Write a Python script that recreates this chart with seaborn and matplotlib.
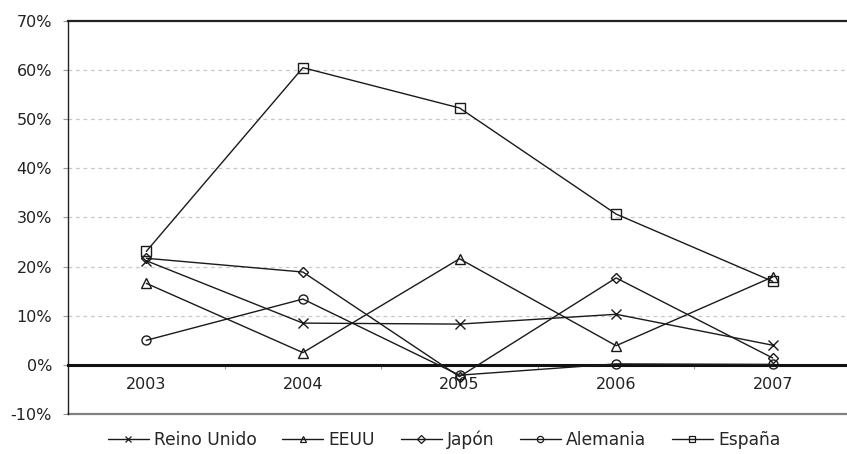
import numpy as np
import pandas as pd
import seaborn as sns
import matplotlib
matplotlib.use("Agg")
import matplotlib.pyplot as plt
from matplotlib.lines import Line2D
from matplotlib.ticker import FixedLocator, PercentFormatter

# Tasas de variación anual (%)
anios = ["2003", "2004", "2005", "2006", "2007"]
paises = ["Reino Unido", "EEUU", "Japón", "Alemania", "España"]
reino_unido = [21.2, 8.5, 8.3, 10.3, 4.0]
eeuu = [16.6, 2.5, 21.6, 3.9, 17.9]
japon = [21.7, 18.9, -2.4, 17.7, 1.4]
alemania = [5.0, 13.4, -2.1, 0.2, 0.1]
espana = [23.1, 60.5, 52.3, 30.7, 17.0]
marcadores = ["x", "^", "D", "o", "s"]

series = [reino_unido, eeuu, japon, alemania, espana]
df = pd.DataFrame({
    "pos": np.tile(np.arange(len(anios)), len(paises)),
    "valor": np.concatenate(series),
    "pais": np.repeat(paises, len(anios)),
})

sns.set_theme(style="white")
plt.rcParams["font.family"] = ["DejaVu Sans"]
plt.rcParams["font.size"] = 11.5
plt.rcParams["axes.unicode_minus"] = False

fig = plt.figure(figsize=(8.47, 4.54), dpi=100)
# axes box: left 68px, top 21px, bottom 414px; right side runs past the figure edge
W, H = 847, 454
ax = fig.add_axes([68 / W, (H - 414) / H, (851 - 68) / W, (414 - 21) / H])

msizes = {"x": 7, "^": 7.5, "D": 5.5, "o": 6.5, "s": 7}
for pais, m in zip(paises, marcadores):
    sns.lineplot(
        data=df[df["pais"] == pais], x="pos", y="valor",
        color="#1a1a1a", linewidth=1.0, marker=m, markersize=msizes[m],
        markerfacecolor="none", markeredgecolor="#1a1a1a",
        markeredgewidth=1.0, legend=False, ax=ax, zorder=3,
    )

ax.set_xlim(-0.5, len(anios) - 0.5)
ax.set_ylim(-10, 70)
ax.set_xlabel("")
ax.set_ylabel("")

# horizontal gridlines
for v in range(10, 70, 10):
    ax.axhline(v, color="#c8c8c8", linewidth=0.9, linestyle=(0, (3, 3)), zorder=0)

# y axis
ax.yaxis.set_major_locator(FixedLocator(range(-10, 80, 10)))
ax.yaxis.set_major_formatter(PercentFormatter(decimals=0))
ax.tick_params(axis="y", left=True, length=3.6, width=0.8, color="#999999",
               pad=8, labelsize=11.5, labelcolor="#222222")

# x axis drawn on the zero line
ax.spines["bottom"].set_position(("data", 0))
ax.spines["bottom"].set_linewidth(2.2)
ax.spines["bottom"].set_color("#111111")
ax.set_xticks(range(len(anios)))
ax.set_xticklabels(anios)
ax.set_xticks(np.arange(0.5, len(anios) - 0.5, 1.0), minor=True)
ax.tick_params(axis="x", which="major", bottom=False, length=0, pad=9,
               labelsize=11.5, labelcolor="#222222")
ax.tick_params(axis="x", which="minor", bottom=True, length=3, width=0.8,
               color="#999999")

ax.spines["left"].set_color("#222222")
ax.spines["left"].set_linewidth(1.0)
ax.spines["top"].set_color("#222222")
ax.spines["top"].set_linewidth(1.6)
ax.spines["right"].set_visible(False)
# lower frame line
ax.axhline(-10, color="#808080", linewidth=1.6, clip_on=False, zorder=1)

handles = [
    Line2D([], [], color="#1a1a1a", linewidth=1.0, marker=m, markersize=4.5,
           markerfacecolor="none", markeredgecolor="#1a1a1a", markeredgewidth=0.9)
    for m in marcadores
]
fig.legend(handles, paises, loc="center", bbox_to_anchor=(444 / W, 1 - 440 / H),
           ncol=5, frameon=False, handlelength=2.4, handletextpad=0.3,
           columnspacing=1.5, fontsize=12.3)

fig.savefig("out.png", dpi=100)
